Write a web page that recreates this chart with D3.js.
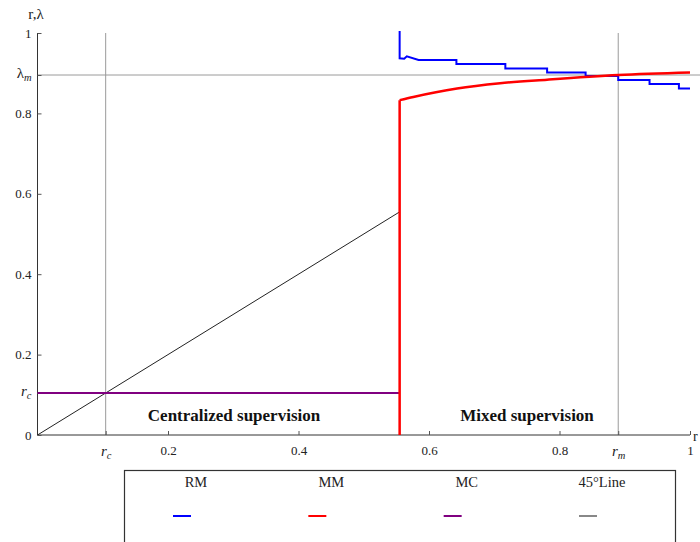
<!DOCTYPE html>
<html>
<head>
<meta charset="utf-8">
<script src="https://cdn.jsdelivr.net/npm/d3@7"></script>
<style>
  body { margin: 0; background: #fff; }
  svg { display: block; font-family: "Liberation Serif", "Times New Roman", serif; }
</style>
</head>
<body>
<div id="chart"></div>
<script>
// key values
var rc = 0.1045, rm = 0.890, lambdaM = 0.8955, cutoff = 0.555;

// RM (blue): drop from 1 then a staircase
var rmX = [0.555, 0.555, 0.562, 0.566, 0.584, 0.642, 0.642, 0.717, 0.717, 0.781, 0.781, 0.840, 0.840, 0.890, 0.890, 0.938, 0.938, 0.983, 0.983, 1.0];
var rmY = [1.005, 0.937, 0.936, 0.942, 0.933, 0.933, 0.923, 0.923, 0.912, 0.912, 0.902, 0.902, 0.893, 0.893, 0.883, 0.883, 0.873, 0.873, 0.862, 0.862];

// MM (red): jump at the cutoff then a rising curve
var mmX = [0.555, 0.576, 0.643, 0.709, 0.781, 0.890, 1.0];
var mmY = [0.833, 0.841, 0.862, 0.875, 0.884, 0.8955, 0.9017];

// MC (purple): flat at rc up to the cutoff
var mcX = [0, 0.555];
var mcY = [0.1045, 0.1045];

// 45 degree line
var diagX = [0, 0.555];
var diagY = [0, 0.555];

var xTicks = [rc, 0.2, 0.4, 0.6, 0.8, rm, 1];
var yTicks = [0, rc, 0.2, 0.4, 0.6, 0.8, lambdaM, 1];

var legendNames = ["RM", "MM", "MC", "45°Line"];
var legendColors = ["#0000ff", "#ff0000", "#800080", "#888888"];

var width = 700, height = 542;
var serif = "'Liberation Serif', 'Times New Roman', serif";

var svg = d3.select("#chart").append("svg")
  .attr("width", width)
  .attr("height", height)
  .attr("font-family", serif);

var x = d3.scaleLinear().domain([0, 1]).range([37.5, 690]);
var y = d3.scaleLinear().domain([0, 1]).range([435, 33]);

function zip(xs, ys) { return xs.map(function(v, i) { return [v, ys[i]]; }); }

// reference lines
svg.append("line")
  .attr("x1", x(0)).attr("x2", width)
  .attr("y1", y(lambdaM)).attr("y2", y(lambdaM))
  .attr("stroke", "#9a9a9a").attr("stroke-width", 1);
[rc, rm].forEach(function(v) {
  svg.append("line")
    .attr("x1", x(v)).attr("x2", x(v))
    .attr("y1", y(1)).attr("y2", y(0))
    .attr("stroke", "#9a9a9a").attr("stroke-width", 1);
});

// axes
function fmt(d) {
  if (d === rc || d === rm || d === lambdaM) return "";
  return d3.format("")(+d.toFixed(1));
}

var xAxis = svg.append("g")
  .attr("transform", "translate(0," + y(0) + ")")
  .call(d3.axisBottom(x).tickValues(xTicks).tickSizeInner(-4).tickSizeOuter(0).tickPadding(11).tickFormat(fmt));

var yAxis = svg.append("g")
  .attr("transform", "translate(" + x(0) + ",0)")
  .call(d3.axisLeft(y).tickValues(yTicks).tickSizeInner(-4).tickSizeOuter(0).tickPadding(6).tickFormat(fmt));

[xAxis, yAxis].forEach(function(g) {
  g.attr("font-family", serif).attr("font-size", 13);
  g.select(".domain").attr("stroke", "#333");
  g.selectAll(".tick line").attr("stroke", "#555");
  g.selectAll(".tick text").attr("fill", "#222");
});
yAxis.select(".domain").attr("d", "M0," + y(0) + "V" + y(1));
xAxis.select(".domain").attr("d", "M" + x(0) + ",0H" + x(1));

// symbolic tick labels
function symLabel(g, v, main, sub, italicMain) {
  var t = g.selectAll(".tick").filter(function(d) { return d === v; }).select("text");
  t.text(null);
  t.append("tspan").style("font-style", italicMain ? "italic" : "normal").style("font-size", "15px").text(main);
  t.append("tspan").style("font-style", "italic").style("font-size", "10.5px").attr("dy", "0.3em").text(sub);
}
symLabel(xAxis, rc, "r", "c", true);
symLabel(xAxis, rm, "r", "m", true);
xAxis.selectAll(".tick").filter(function(d) { return d === rc || d === rm; }).select("text").attr("dy", "0.75em");
symLabel(yAxis, rc, "r", "c", true);
symLabel(yAxis, lambdaM, "λ", "m", false);
yAxis.selectAll(".tick").filter(function(d) { return d === rc || d === lambdaM; }).select("text").attr("dy", "0.2em");

// axis titles
svg.append("text")
  .attr("x", 36).attr("y", 19)
  .attr("text-anchor", "middle")
  .style("font-size", "15px").attr("fill", "#222")
  .text("r,λ");
svg.append("text")
  .attr("x", 693).attr("y", 441)
  .style("font-size", "14px").attr("fill", "#222")
  .text("r");

// series
var line = d3.line()
  .x(function(d) { return x(d[0]); })
  .y(function(d) { return y(d[1]); });

svg.append("path")
  .datum(zip(diagX, diagY))
  .attr("d", line)
  .attr("fill", "none").attr("stroke", "#222").attr("stroke-width", 1);

svg.append("path")
  .datum(zip(rmX, rmY))
  .attr("d", line)
  .attr("fill", "none").attr("stroke", "#0000ff").attr("stroke-width", 2);

svg.append("path")
  .datum(zip(mcX, mcY))
  .attr("d", line)
  .attr("fill", "none").attr("stroke", "#800080").attr("stroke-width", 2);

// MM: vertical jump then smooth curve
svg.append("path")
  .datum([[mmX[0], 0], [mmX[0], mmY[0]]])
  .attr("d", line)
  .attr("fill", "none").attr("stroke", "#ff0000").attr("stroke-width", 2.5);
svg.append("path")
  .datum(zip(mmX, mmY))
  .attr("d", line.curve(d3.curveMonotoneX))
  .attr("fill", "none").attr("stroke", "#ff0000").attr("stroke-width", 2.5);

// region labels
svg.append("text")
  .attr("x", 234).attr("y", 421)
  .attr("text-anchor", "middle")
  .style("font-size", "17px").style("font-weight", "bold").attr("fill", "#111")
  .text("Centralized supervision");
svg.append("text")
  .attr("x", 527).attr("y", 421)
  .attr("text-anchor", "middle")
  .style("font-size", "17px").style("font-weight", "bold").attr("fill", "#111")
  .text("Mixed supervision");

// legend
var legend = svg.append("g");
legend.append("rect")
  .attr("x", 124.5).attr("y", 470.5)
  .attr("width", 551).attr("height", 100)
  .attr("fill", "none").attr("stroke", "#333").attr("stroke-width", 1.2);

var lx = d3.scalePoint().domain(legendNames).range([182, 588]);

legend.selectAll(".lab")
  .data(legendNames)
  .enter().append("text")
  .attr("x", function(d) { return lx(d) + 14; })
  .attr("y", 487)
  .attr("text-anchor", "middle")
  .style("font-size", "14.5px").attr("fill", "#222")
  .text(function(d) { return d; });

legend.selectAll(".sw")
  .data(legendNames)
  .enter().append("line")
  .attr("x1", function(d) { return lx(d) - 9; })
  .attr("x2", function(d) { return lx(d) + 9; })
  .attr("y1", 516).attr("y2", 516)
  .attr("stroke", function(d, i) { return legendColors[i]; })
  .attr("stroke-width", 2);
</script>
</body>
</html>
